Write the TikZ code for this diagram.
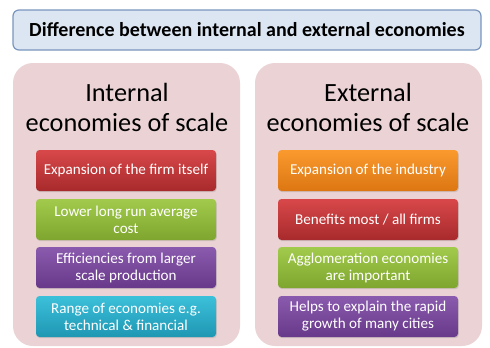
\documentclass[tikz,border=0pt]{standalone}
\usepackage{fontspec}
\setmainfont{Carlito}
\usetikzlibrary{shadows}
\definecolor{panelfill}{HTML}{EBD3D5}
\definecolor{titlefill}{HTML}{DCE6F2}
\definecolor{titleline}{HTML}{7A96BE}
\definecolor{redtop}{HTML}{D8484A}\definecolor{redbot}{HTML}{A82A2C}
\definecolor{greentop}{HTML}{A2CB4C}\definecolor{greenbot}{HTML}{7EA52E}
\definecolor{purptop}{HTML}{8A5AAE}\definecolor{purpbot}{HTML}{68398A}
\definecolor{cyantop}{HTML}{3CC0DA}\definecolor{cyanbot}{HTML}{1F97B3}
\definecolor{orangetop}{HTML}{FA9A2E}\definecolor{orangebot}{HTML}{DC7612}
\tikzset{
  x=1pt, y=-1pt,
  panel/.style={fill=panelfill, rounded corners=20pt, draw=none},
  titlebox/.style={fill=titlefill, draw=titleline, line width=1.2pt, rounded corners=6pt},
  heading/.style={align=center, font=\fontsize{26.3}{30}\selectfont, text=black},
  itembox/.style={minimum width=180pt, minimum height=41pt, inner sep=1pt, rounded corners=3.5pt,
    align=center, text=white, font=\fontsize{15.1}{17}\selectfont,
    drop shadow={opacity=0.25, shadow xshift=0.8pt, shadow yshift=-1.2pt}},
  red/.style={itembox, top color=redtop, bottom color=redbot},
  green/.style={itembox, top color=greentop, bottom color=greenbot},
  purple/.style={itembox, top color=purptop, bottom color=purpbot},
  cyan/.style={itembox, top color=cyantop, bottom color=cyanbot},
  orange/.style={itembox, top color=orangetop, bottom color=orangebot},
}
\begin{document}
\begin{tikzpicture}
\useasboundingbox[fill=white] (0,0) rectangle (490,348);
% title bar
\draw[titlebox] (13,10) rectangle (481,50);
\node[font=\fontsize{20}{24}\selectfont\bfseries] (title) at (247,30) {Difference between internal and external economies};
% the two panels
\fill[panel] (13,63) rectangle (240,346);
\fill[panel] (255,63) rectangle (482,346);
\node[heading] (inthead) at (127,107) {Internal\\economies of scale};
\node[heading] (exthead) at (368,107) {External\\economies of scale};
% internal column
\node[red]    (i1) at (126,170.5) {Expansion of the firm itself};
\node[green]  (i2) at (126,219.5) {Lower long run average\\cost};
\node[purple] (i3) at (126,267.5) {Efficiencies from larger\\scale production};
\node[cyan]   (i4) at (126,316.5) {Range of economies e.g.\\technical \& financial};
% external column
\node[orange] (e1) at (368,170.5) {Expansion of the industry};
\node[red]    (e2) at (368,219.5) {Benefits most / all firms};
\node[green]  (e3) at (368,267.5) {Agglomeration economies\\are important};
\node[purple] (e4) at (368,316.5) {Helps to explain the rapid\\growth of many cities};
\end{tikzpicture}
\end{document}
